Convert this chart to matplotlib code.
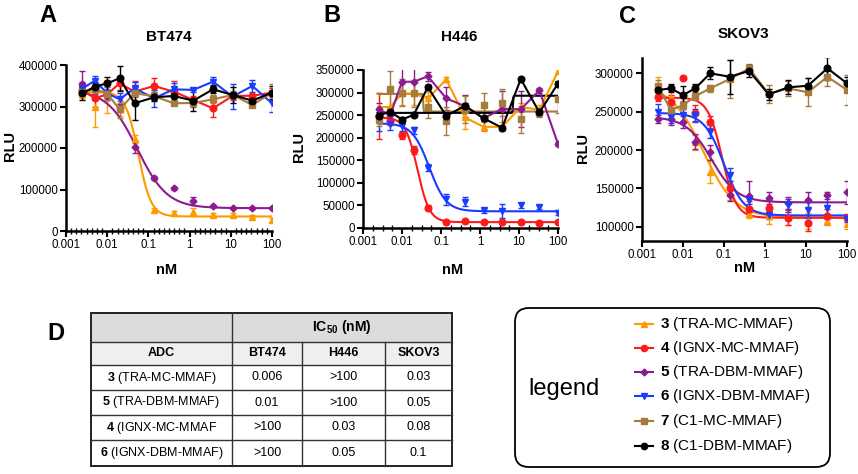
import numpy as np
import matplotlib
matplotlib.use("Agg")
import matplotlib.pyplot as plt
from matplotlib.patches import Rectangle, FancyBboxPatch
from matplotlib.ticker import FixedLocator, FixedFormatter, NullLocator, NullFormatter

plt.rcParams['font.family'] = ['Liberation Sans', 'DejaVu Sans']
plt.rcParams['mathtext.fontset'] = 'custom'
plt.rcParams['mathtext.rm'] = 'Liberation Sans'
plt.rcParams['mathtext.bf'] = 'Liberation Sans:bold'

# concentrations (nM)
conc = [0.0025, 0.005, 0.01, 0.02, 0.046, 0.137, 0.41, 1.23, 3.7, 11.1, 33.3, 100]
xticks = [0.001, 0.01, 0.1, 1, 10, 100]
xticklabels = ['0.001', '0.01', '0.1', '1', '10', '100']

compounds = ['3', '4', '5', '6', '7', '8']
names = ['TRA-MC-MMAF', 'IGNX-MC-MMAF', 'TRA-DBM-MMAF', 'IGNX-DBM-MMAF', 'C1-MC-MMAF', 'C1-DBM-MMAF']
colors = ['#FF9900', '#FF1A1A', '#8B1C8E', '#1A3CFF', '#A67B3D', '#000000']
markers = ['^', 'o', 'D', 'v', 's', 'o']

# BT474
bt474 = {
    '3': [330000, 300000, 325000, 293000, 221000, 51000, 44000, 45000, 39000, 39000, 34500, 27000],
    '4': [339800, 319700, 329400, 355900, 335800, 349500, 335800, 315700, 295600, 325400, 326000, 333400],
    '5': [355000, 345000, 325000, 296000, 202000, 128000, 103000, 72000, 60000, 55000, 55000, 55000],
    '6': [343000, 362300, 331800, 317300, 343800, 319700, 341400, 340000, 359900, 324000, 349500, 307700],
    '7': [336000, 342000, 331000, 293200, 331800, 325000, 307700, 308500, 317300, 327800, 303700, 333400],
    '8': [331800, 347800, 355900, 367900, 307700, 322200, 325400, 314100, 341400, 327800, 314100, 333400],
}
bt474_err = {
    '3': [10000, 50000, 40000, 15000, 10000, 5000, 5000, 10000, 5000, 5000, 3000, 5000],
    '4': [15000, 20000, 10000, 15000, 25000, 20000, 25000, 10000, 20000, 10000, 5000, 10000],
    '5': [30000, 15000, 10000, 10000, 15000, 5000, 3000, 10000, 3000, 3000, 3000, 3000],
    '6': [15000, 10000, 15000, 15000, 15000, 20000, 15000, 5000, 10000, 30000, 15000, 20000],
    '7': [10000, 10000, 15000, 20000, 10000, 10000, 5000, 10000, 10000, 10000, 5000, 20000],
    '8': [15000, 10000, 15000, 30000, 40000, 10000, 15000, 25000, 10000, 20000, 10000, 15000],
}
# fitted curves: top, bottom, IC50, hill
bt474_fit = {'3': [335000, 35000, 0.057, 2.8], '5': [340000, 55000, 0.054, 1.2]}

# H446
h446 = {
    '3': [268000, 268000, 298000, 298000, 287000, 329000, 245000, 224000, 224000, 268000, 262000, 347000],
    '4': [248000, 238000, 205000, 173000, 45000, 14000, 15000, 13000, 13000, 13000, 12000, 13000],
    '5': [263000, 250000, 324000, 324000, 336000, 287000, 270000, 243000, 264000, 263000, 305000, 186000],
    '6': [240000, 230000, 225000, 216000, 134000, 64000, 58000, 39000, 38000, 50000, 47000, 34000],
    '7': [240000, 307000, 300000, 298000, 268000, 237000, 262000, 273000, 277000, 241000, 255000, 285000],
    '8': [249000, 258000, 240000, 251000, 312000, 248000, 271000, 243000, 222000, 330000, 256000, 320000],
}
h446_err = {
    '3': [30000, 40000, 25000, 25000, 15000, 5000, 25000, 10000, 10000, 10000, 10000, 5000],
    '4': [50000, 10000, 8000, 8000, 5000, 3000, 3000, 3000, 3000, 3000, 3000, 3000],
    '5': [15000, 15000, 30000, 30000, 10000, 25000, 25000, 25000, 40000, 40000, 5000, 5000],
    '6': [25000, 12000, 10000, 8000, 8000, 12000, 10000, 5000, 15000, 5000, 5000, 5000],
    '7': [15000, 40000, 30000, 30000, 25000, 30000, 30000, 25000, 30000, 30000, 10000, 30000],
    '8': [8000, 5000, 5000, 5000, 5000, 5000, 5000, 5000, 5000, 5000, 5000, 5000],
}
h446_fit = {'4': [245000, 13000, 0.025, 2.8], '6': [232000, 37000, 0.05, 2.0],
            '7': [297000, 258000, 0.035, 80], '8': [255000, 293000, 7.0, 80]}
# series drawn both as connected points and with a fit
h446_connected = ['8']

# SKOV3
skov3 = {
    '3': [285000, 268000, 258000, 210000, 172000, 145000, 117000, 114000, 113000, 108000, 108000, 104000],
    '4': [269000, 262000, 293000, 248000, 236000, 150000, 124000, 125000, 112000, 105000, 114000, 112000],
    '5': [240000, 240000, 236000, 211000, 197000, 142000, 140000, 138000, 131000, 135000, 141000, 145000],
    '6': [250000, 243000, 245000, 245000, 224000, 168000, 135000, 116000, 128000, 122000, 125000, 111000],
    '7': [283000, 252000, 258000, 270000, 280000, 292000, 306000, 273000, 280000, 275000, 295000, 278000],
    '8': [277900, 280100, 271400, 280100, 299600, 295200, 302600, 272300, 281400, 283500, 306100, 286600],
}
skov3_err = {
    '3': [10000, 15000, 10000, 10000, 15000, 10000, 5000, 10000, 10000, 10000, 5000, 6000],
    '4': [5000, 10000, 0, 10000, 8000, 10000, 10000, 10000, 10000, 10000, 10000, 5000],
    '5': [5000, 8000, 8000, 10000, 10000, 8000, 20000, 8000, 8000, 10000, 5000, 15000],
    '6': [10000, 8000, 8000, 8000, 8000, 8000, 5000, 5000, 8000, 10000, 15000, 5000],
    '7': [8000, 6000, 5000, 5000, 5000, 25000, 6000, 12000, 10000, 18000, 12000, 20000],
    '8': [8000, 5000, 12000, 6000, 8000, 22000, 8000, 7000, 9000, 10000, 15000, 8000],
}
skov3_fit = {'3': [285000, 112000, 0.031, 1.1], '4': [268000, 112000, 0.09, 2.5],
             '5': [243000, 132000, 0.05, 1.4], '6': [248000, 115000, 0.1, 1.8]}

# table D
table_cols = ['ADC', 'BT474', 'H446', 'SKOV3']
table_ids = ['3', '5', '4', '6']
table_names = ['(TRA-MC-MMAF)', '(TRA-DBM-MMAF)', '(IGNX-MC-MMAF', '(IGNX-DBM-MMAF)']
table_vals = [['0.006', '>100', '0.03'],
              ['0.01', '>100', '0.05'],
              ['>100', '0.03', '0.08'],
              ['>100', '0.05', '0.1']]


def logistic(x, top, bottom, ic50, hill):
    return bottom + (top - bottom) / (1 + (x / ic50) ** hill)


W, H = 858, 474
fig = plt.figure(figsize=(W / 100, H / 100), dpi=100)

# pixel-coordinate canvas for texts, table and legend
bg = fig.add_axes([0, 0, 1, 1])
bg.set_xlim(0, W)
bg.set_ylim(H, 0)
bg.axis('off')


def px_rect(left, right, top, bottom):
    return [left / W, (H - bottom) / H, (right - left) / W, (bottom - top) / H]


def panel(rect, data, errs, fits, ylim, yticks, minor_step, connected=()):
    ax = fig.add_axes(rect)
    ax.set_xscale('log')
    for c, col, mk in zip(compounds, colors, markers):
        ms = 3.5 if mk == 'D' else 4.8
        if c in fits:
            ls = '-' if c in connected else 'none'
            ax.errorbar(conc, data[c], yerr=errs[c], color=col, marker=mk, ms=ms,
                        ls=ls, lw=1.5, capsize=2, elinewidth=1, capthick=1, zorder=3)
            xs = np.logspace(np.log10(conc[0]), np.log10(conc[-1]), 400)
            ax.plot(xs, logistic(xs, *fits[c]), color=col, lw=1.5, zorder=3)
        else:
            ax.errorbar(conc, data[c], yerr=errs[c], color=col, marker=mk, ms=ms,
                        lw=1.5, capsize=2, elinewidth=1, capthick=1, zorder=3)
    ax.set_xlim(0.001, 100)
    ax.set_ylim(*ylim)
    ax.xaxis.set_major_locator(FixedLocator(xticks))
    ax.xaxis.set_major_formatter(FixedFormatter(xticklabels))
    ax.xaxis.set_minor_formatter(NullFormatter())
    if minor_step:
        ax.xaxis.set_minor_locator(FixedLocator(10 ** np.arange(-3, 2.001, minor_step)))
        ax.tick_params(axis='x', which='minor', direction='inout', length=4, width=1)
    else:
        ax.xaxis.set_minor_locator(NullLocator())
    ax.set_yticks(yticks)
    ax.set_yticklabels([str(v) for v in yticks])
    ax.tick_params(which='major', direction='out', length=4, width=1.5, labelsize=8.3, pad=2)
    for s in ['top', 'right']:
        ax.spines[s].set_visible(False)
    for s in ['left', 'bottom']:
        ax.spines[s].set_linewidth(1.8)
    ax.patch.set_alpha(0)
    return ax


panel(px_rect(66, 272, 65, 231), bt474, bt474_err, bt474_fit, (0, 400000),
      [0, 100000, 200000, 300000, 400000], 1 / 8)
panel(px_rect(363, 558, 70, 228), h446, h446_err, h446_fit, (0, 350000),
      [0, 50000, 100000, 150000, 200000, 250000, 300000, 350000], 1 / 4, h446_connected)
panel(px_rect(642, 847, 58, 241), skov3, skov3_err, skov3_fit, (81800, 319500),
      [100000, 150000, 200000, 250000, 300000], None)

# panel letters, titles, axis labels
for lab, x, y in [('A', 48, 15), ('B', 332, 15), ('C', 627, 16), ('D', 56, 333)]:
    bg.text(x, y, lab, fontsize=17, fontweight='bold', ha='center', va='center')
for t, x, y in [('BT474', 169, 37), ('H446', 459, 37), ('SKOV3', 743, 34)]:
    bg.text(x, y, t, fontsize=11, fontweight='bold', ha='center', va='center')
for x, y in [(10, 146), (299, 147), (583, 148)]:
    bg.text(x, y, 'RLU', fontsize=10.5, fontweight='bold', ha='center', va='center', rotation=90)
for x, y in [(167, 270), (453, 270), (745, 268)]:
    bg.text(x, y, 'nM', fontsize=10.5, fontweight='bold', ha='center', va='center')

# table
tl, tr, tt, tb = 90.7, 452, 313, 466
col_edges = [tl, 232, 302, 385, tr]
row_edges = [tt, 341.5, 365, 390, 415, 440, tb]
bg.add_patch(Rectangle((tl, row_edges[0]), tr - tl, row_edges[1] - row_edges[0],
                       facecolor='#dcdcdc', edgecolor='none'))
bg.add_patch(Rectangle((tl, row_edges[1]), tr - tl, row_edges[2] - row_edges[1],
                       facecolor='#efefef', edgecolor='none'))
for yy in row_edges[1:-1]:
    bg.plot([tl, tr], [yy, yy], color='#333333', lw=1)
bg.plot([col_edges[1], col_edges[1]], [tt, tb], color='#333333', lw=1)
for xx in col_edges[2:4]:
    bg.plot([xx, xx], [row_edges[1], tb], color='#333333', lw=1)
bg.add_patch(Rectangle((tl, tt), tr - tl, tb - tt, facecolor='none', edgecolor='#222222', lw=1.4))

col_centers = [(col_edges[i] + col_edges[i + 1]) / 2 for i in range(4)]
row_centers = [(row_edges[i] + row_edges[i + 1]) / 2 for i in range(6)]
bg.text((col_edges[1] + tr) / 2, row_centers[0], r'$\mathbf{IC_{50}}$ (nM)', fontsize=10,
        fontweight='bold', ha='center', va='center')
for cx, name in zip(col_centers, table_cols):
    bg.text(cx, row_centers[1], name, fontsize=9, fontweight='bold', ha='center', va='center')
for r, (cid, nm, vals) in enumerate(zip(table_ids, table_names, table_vals)):
    yy = row_centers[r + 2]
    bg.text(col_centers[0], yy, r'$\mathbf{' + cid + '}$ ' + nm, fontsize=9, ha='center', va='center')
    for cx, v in zip(col_centers[1:], vals):
        bg.text(cx, yy, v, fontsize=9, ha='center', va='center')

# legend box
bg.add_patch(FancyBboxPatch((515, 308), 315, 159, boxstyle='round,pad=0,rounding_size=14',
                            facecolor='white', edgecolor='black', lw=1.3))
bg.text(528, 389, 'legend', fontsize=17, ha='left', va='center')
leg_y = [324, 348, 372, 396, 421, 446]
for yy, c, nm, col, mk in zip(leg_y, compounds, names, colors, markers):
    bg.plot([635, 653], [yy, yy], color=col, lw=1.5)
    bg.plot([644], [yy], color=col, marker=mk, ms=3.5 if mk == 'D' else 4.5)
    bg.text(660, yy, r'$\mathbf{' + c + '}$ (' + nm + ')', fontsize=11, ha='left', va='center')

fig.savefig('out.png', dpi=100)
